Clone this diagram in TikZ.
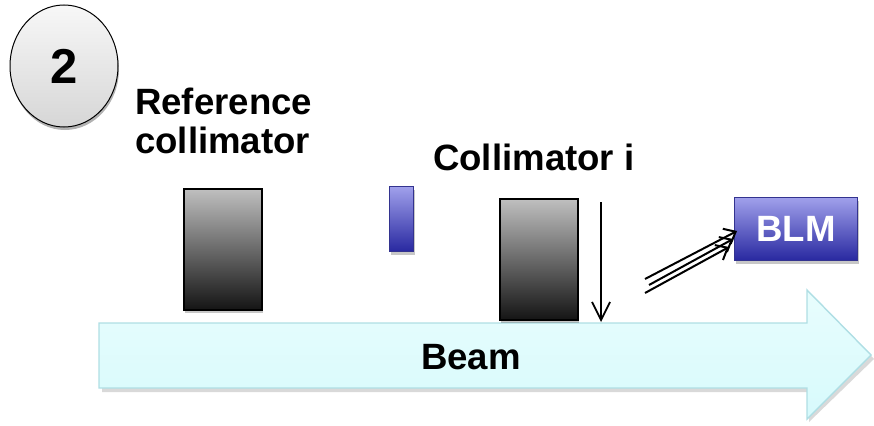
\documentclass[tikz,border=0pt]{standalone}
\usepackage{fontspec}
\setmainfont{Liberation Sans}
\usetikzlibrary{arrows.meta,shadows,shapes.geometric}

\begin{document}
\begin{tikzpicture}[x=1pt,y=-1pt,
  txt/.style={font=\fontsize{36.6}{38.5}\selectfont\bfseries, inner sep=0pt},
  softshadow/.style={drop shadow={shadow xshift=1.5pt,shadow yshift=-3pt,opacity=0.22,fill=black}},
  collbox/.style={draw=black, line width=1.6pt, top color=gray!50, bottom color=black!92,
    minimum width=78pt, minimum height=121pt, anchor=north west, inner sep=0pt, softshadow},
  bluebox/.style={draw=blue!45!black!80, line width=1.2pt, top color={rgb,255:red,160;green,160;blue,235},
    bottom color={rgb,255:red,40;green,40;blue,160}, anchor=north west, inner sep=0pt, softshadow},
  ray/.style={line width=2pt, -{Straight Barb[length=10pt,width=17pt,line width=2pt]}},
]
\useasboundingbox (0,0) rectangle (874,425);

% step badge
\node[ellipse, draw=black, line width=1pt, top color=gray!6, bottom color=gray!32,
      minimum width=108pt, minimum height=122pt, inner sep=0pt,
      drop shadow={shadow xshift=1pt,shadow yshift=-3pt,opacity=0.3,fill=black}]
  (badge) at (64,66) {\fontsize{49}{49}\selectfont\bfseries 2};

% labels
\node[txt, align=left, anchor=north west] (reflbl) at (135,88) {Reference\\collimator};
\node[txt, anchor=base west] (colllbl) at (433,170) {Collimator i};

% beam arrow
\fill[black, opacity=0.15] (102,327) -- (809,327) -- (809,294) -- (874,359) -- (809,422) -- (809,392) -- (102,392) -- cycle;
\path[draw={rgb,255:red,175;green,222;blue,228}, line width=1.4pt,
      top color={rgb,255:red,232;green,253;blue,253}, bottom color={rgb,255:red,215;green,250;blue,252}]
  (99,323) -- (807,323) -- (807,290) -- (871,355) -- (807,419) -- (807,388) -- (99,388) -- cycle;
\node[txt, anchor=base] (beam) at (471,369) {Beam};

% collimators
\node[collbox] (refcoll) at (183,188) {};
\node[collbox] (colli) at (499,198) {};

% small monitor block
\node[bluebox, minimum width=24pt, minimum height=65pt] (small) at (389,186) {};

% beam loss monitor
\node[bluebox, minimum width=123pt, minimum height=63pt] (blm) at (734,197)
  {\fontsize{36.6}{38}\selectfont\bfseries\color{white}BLM};

% jaw movement towards the beam
\coordinate (jawtop) at (601,202);
\coordinate (jawbot) at (601,322);
\draw[line width=1.8pt, -{Straight Barb[length=18pt,width=18pt,line width=1.8pt]}] (jawtop) -- (jawbot);

% secondary showers towards the BLM
\coordinate (s1) at (645,279);
\coordinate (e1) at (737,231);
\coordinate (s2) at (649,285);
\coordinate (e2) at (733,239);
\coordinate (s3) at (645,293);
\coordinate (e3) at (729,247);
\draw[ray] (s1) -- (e1);
\draw[ray] (s2) -- (e2);
\draw[ray] (s3) -- (e3);
\end{tikzpicture}
\end{document}
